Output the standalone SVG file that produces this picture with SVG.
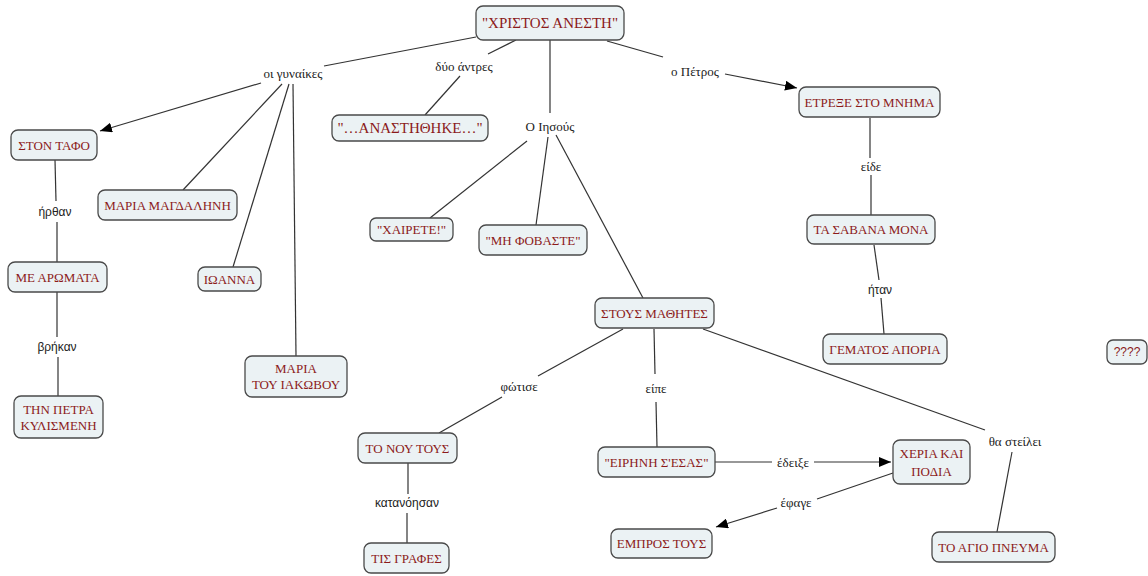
<svg xmlns="http://www.w3.org/2000/svg" width="1148" height="576" viewBox="0 0 1148 576">
<defs>
<marker id="arr" viewBox="0 0 12 10" refX="12" refY="5" markerWidth="12" markerHeight="10" markerUnits="userSpaceOnUse" orient="auto">
<path d="M0,0 L12,5 L0,10 Z" fill="#000"/>
</marker>
<style>
.n rect{fill:#EBF2F4;stroke:#4a4a4a;stroke-width:1.3}
.n text{font-family:"Liberation Serif",serif;font-size:13px;fill:#8B1A1A;text-anchor:middle}
.c line{stroke:#333;stroke-width:1.2;fill:none}
.l{font-family:"Liberation Serif",serif;font-size:13px;fill:#222;text-anchor:middle}
.ls{font-family:"Liberation Sans",sans-serif;font-size:12px;fill:#222;text-anchor:middle}
</style>
</defs>
<rect width="1148" height="576" fill="#fff"/>
<g id="connectors" class="c">
<line x1="476" y1="37" x2="324" y2="66"/>
<line x1="261" y1="83" x2="100" y2="131" marker-end="url(#arr)"/>
<line x1="282" y1="84" x2="183" y2="190"/>
<line x1="289" y1="84" x2="233" y2="267"/>
<line x1="293" y1="84" x2="296" y2="356"/>
<line x1="516" y1="40" x2="488" y2="54"/>
<line x1="460" y1="76" x2="425" y2="115"/>
<line x1="550" y1="40" x2="550" y2="113"/>
<line x1="527" y1="141" x2="430" y2="218"/>
<line x1="548" y1="137" x2="536" y2="225"/>
<line x1="556" y1="135" x2="643" y2="298"/>
<line x1="607" y1="41" x2="663" y2="57"/>
<line x1="725" y1="74" x2="797" y2="88" marker-end="url(#arr)"/>
<line x1="870" y1="118" x2="870" y2="158"/>
<line x1="871" y1="175" x2="871" y2="215"/>
<line x1="874" y1="245" x2="879" y2="280"/>
<line x1="881" y1="298" x2="884" y2="334"/>
<line x1="55" y1="160" x2="56" y2="201"/>
<line x1="57" y1="222" x2="57" y2="262"/>
<line x1="57" y1="292" x2="57" y2="337"/>
<line x1="58" y1="357" x2="58" y2="396"/>
<line x1="623" y1="329" x2="538" y2="376"/>
<line x1="502" y1="397" x2="439" y2="433"/>
<line x1="654" y1="329" x2="655" y2="374"/>
<line x1="656" y1="402" x2="657" y2="447"/>
<line x1="408" y1="463" x2="408" y2="494"/>
<line x1="407" y1="513" x2="407" y2="543"/>
<line x1="703" y1="329" x2="985" y2="430"/>
<line x1="1012" y1="452" x2="997" y2="532"/>
<line x1="715" y1="462" x2="772" y2="462"/>
<line x1="814" y1="462" x2="891" y2="462" marker-end="url(#arr)"/>
<line x1="893" y1="473" x2="817" y2="499"/>
<line x1="777" y1="508" x2="716" y2="527" marker-end="url(#arr)"/>
</g>
<g id="labels">
<text class="l" x="293" y="78">οι γυναίκες</text>
<text class="l" x="464" y="71">δύο άντρες</text>
<text class="l" x="695" y="76">ο Πέτρος</text>
<text class="l" x="550" y="131">Ο Ιησούς</text>
<text class="ls" x="55" y="216">ήρθαν</text>
<text class="ls" x="57" y="351">βρήκαν</text>
<text class="l" x="871" y="171">είδε</text>
<text class="ls" x="880" y="294">ήταν</text>
<text class="l" x="519" y="391">φώτισε</text>
<text class="l" x="656" y="393">είπε</text>
<text class="ls" x="407" y="507">κατανόησαν</text>
<text class="l" x="1015" y="446">θα στείλει</text>
<text class="l" x="793" y="467">έδειξε</text>
<text class="l" x="796" y="507">έφαγε</text>
</g>
<g id="n-title" class="n"><rect x="476" y="6" width="148" height="34" rx="7"/><text x="550" y="28" style="font-size:15px">"ΧΡΙΣΤΟΣ ΑΝΕΣΤΗ"</text></g>
<g id="n-taf" class="n"><rect x="11" y="130" width="86" height="30" rx="7"/><text x="54" y="150">ΣΤΟΝ ΤΑΦΟ</text></g>
<g id="n-magd" class="n"><rect x="98" y="190" width="139" height="30" rx="7"/><text x="167.5" y="210">ΜΑΡΙΑ ΜΑΓΔΑΛΗΝΗ</text></g>
<g id="n-arom" class="n"><rect x="8" y="262" width="99" height="30" rx="7"/><text x="57.5" y="282">ΜΕ ΑΡΩΜΑΤΑ</text></g>
<g id="n-ioanna" class="n"><rect x="198" y="267" width="63" height="24" rx="7"/><text x="229.5" y="284">ΙΩΑΝΝΑ</text></g>
<g id="n-iakovou" class="n"><rect x="245" y="356" width="102" height="41" rx="7"/><text x="296" y="373">ΜΑΡΙΑ</text><text x="296" y="389">ΤΟΥ ΙΑΚΩΒΟΥ</text></g>
<g id="n-petra" class="n"><rect x="14" y="396" width="89" height="42" rx="7"/><text x="58.5" y="414">ΤΗΝ ΠΕΤΡΑ</text><text x="58.5" y="430">ΚΥΛΙΣΜΕΝΗ</text></g>
<g id="n-anast" class="n"><rect x="332" y="115" width="156" height="26" rx="7"/><text x="410" y="133" style="font-size:15px">"…ΑΝΑΣΤΗΘΗΚΕ…"</text></g>
<g id="n-xairete" class="n"><rect x="370" y="218" width="83" height="23" rx="6"/><text x="411.5" y="234">"ΧΑΙΡΕΤΕ!"</text></g>
<g id="n-fovaste" class="n"><rect x="479" y="225" width="108" height="30" rx="7"/><text x="533" y="245">"ΜΗ ΦΟΒΑΣΤΕ"</text></g>
<g id="n-mathites" class="n"><rect x="595" y="298" width="119" height="30" rx="7"/><text x="654.5" y="318">ΣΤΟΥΣ ΜΑΘΗΤΕΣ</text></g>
<g id="n-nou" class="n"><rect x="358" y="433" width="99" height="30" rx="7"/><text x="407.5" y="453">ΤΟ ΝΟΥ ΤΟΥΣ</text></g>
<g id="n-grafes" class="n"><rect x="364" y="543" width="85" height="30" rx="7"/><text x="406.5" y="563">ΤΙΣ ΓΡΑΦΕΣ</text></g>
<g id="n-eirini" class="n"><rect x="598" y="447" width="117" height="30" rx="7"/><text x="656.5" y="467">"ΕΙΡΗΝΗ Σ'ΕΣΑΣ"</text></g>
<g id="n-empros" class="n"><rect x="611" y="529" width="101" height="29" rx="7"/><text x="661.5" y="548">ΕΜΠΡΟΣ ΤΟΥΣ</text></g>
<g id="n-xeria" class="n"><rect x="893" y="440" width="77" height="44" rx="7"/><text x="931.5" y="458">ΧΕΡΙΑ ΚΑΙ</text><text x="931.5" y="476">ΠΟΔΙΑ</text></g>
<g id="n-agio" class="n"><rect x="932" y="532" width="123" height="30" rx="7"/><text x="993.5" y="552">ΤΟ ΑΓΙΟ ΠΝΕΥΜΑ</text></g>
<g id="n-aporia" class="n"><rect x="823" y="334" width="124" height="30" rx="7"/><text x="885" y="354">ΓΕΜΑΤΟΣ ΑΠΟΡΙΑ</text></g>
<g id="n-q" class="n"><rect x="1107" y="340" width="40" height="24" rx="6"/><text x="1127" y="356" style="font-family:'Liberation Sans',sans-serif;font-size:12px">????</text></g>
<g id="n-etrexe" class="n"><rect x="799" y="87" width="141" height="30" rx="7"/><text x="869.5" y="107">ΕΤΡΕΞΕ ΣΤΟ ΜΝΗΜΑ</text></g>
<g id="n-savana" class="n"><rect x="807" y="215" width="128" height="29" rx="7"/><text x="871" y="234">ΤΑ ΣΑΒΑΝΑ ΜΟΝΑ</text></g>
</svg>
